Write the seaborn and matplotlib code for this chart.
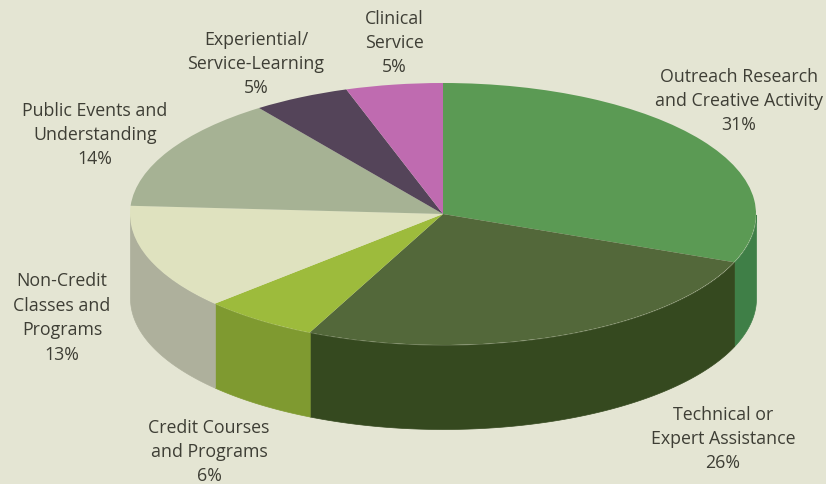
import numpy as np
import matplotlib
matplotlib.use("Agg")
import matplotlib.pyplot as plt
import seaborn as sns

# Share of engagement activity by category, clockwise from twelve o'clock
categories = ["Outreach Research\nand Creative Activity", "Technical or\nExpert Assistance",
              "Credit Courses\nand Programs", "Non-Credit\nClasses and\nPrograms",
              "Public Events and\nUnderstanding", "Experiential/\nService-Learning",
              "Clinical\nService"]
shares = [31, 26, 6, 13, 14, 5, 5]
top_colors = ["#5b9a54", "#53683a", "#9dbb3c", "#dfe2bf", "#a6b294", "#544459", "#bf6bb0"]
side_colors = ["#3f7f47", "#35491f", "#7f9a30", "#aeb09c", "#a6b294", "#544459", "#bf6bb0"]
label_px = [(739, 101), (723, 439), (209, 452), (62, 318), (95, 135), (256, 64), (394, 43)]

BG = "#e4e5d3"
W, H = 826, 484
CX, CY, RX, RY, DEPTH = 443, 214, 313, 131, 84

sns.set_theme(style="white", rc={"figure.facecolor": BG, "axes.facecolor": BG})
plt.rcParams["font.family"] = ["Open Sans", "DejaVu Sans"]

fig = plt.figure(figsize=(W / 100, H / 100), dpi=100)
ax = fig.add_axes([0, 0, 1, 1])

# Rim of the disc: each slice's front-facing arc, extruded downward
depth_u = DEPTH / RY
fractions = np.array(shares) / sum(shares)
edges = np.cumsum(np.r_[0, fractions]) * 2 * np.pi
for start, end, color in zip(edges[:-1], edges[1:], side_colors):
    t = np.linspace(start, end, 200)
    x, y = np.sin(t), np.cos(t)
    front = y <= 0
    if front.any():
        ax.fill_between(x[front], y[front], y[front] - depth_u, color=color, lw=0.5, zorder=1)

# Top face: a unit pie stretched into an ellipse by the axes limits
ax.pie(shares, colors=top_colors, startangle=90, counterclock=False, radius=1,
       wedgeprops={"linewidth": 0}, frame=True)
ax.set_aspect("auto")
ax.set_xlim(-CX / RX, (W - CX) / RX)
ax.set_ylim((CY - H) / RY, CY / RY)
ax.set_xticks([])
ax.set_yticks([])
for spine in ax.spines.values():
    spine.set_visible(False)

for name, share, (px, py) in zip(categories, shares, label_px):
    ax.text(px / W, 1 - py / H, f"{name}\n{share}%", transform=ax.transAxes,
            ha="center", va="center", fontsize=12.8, color="#3e3e35", linespacing=1.46)

fig.savefig("out.png", dpi=100, facecolor=BG)
